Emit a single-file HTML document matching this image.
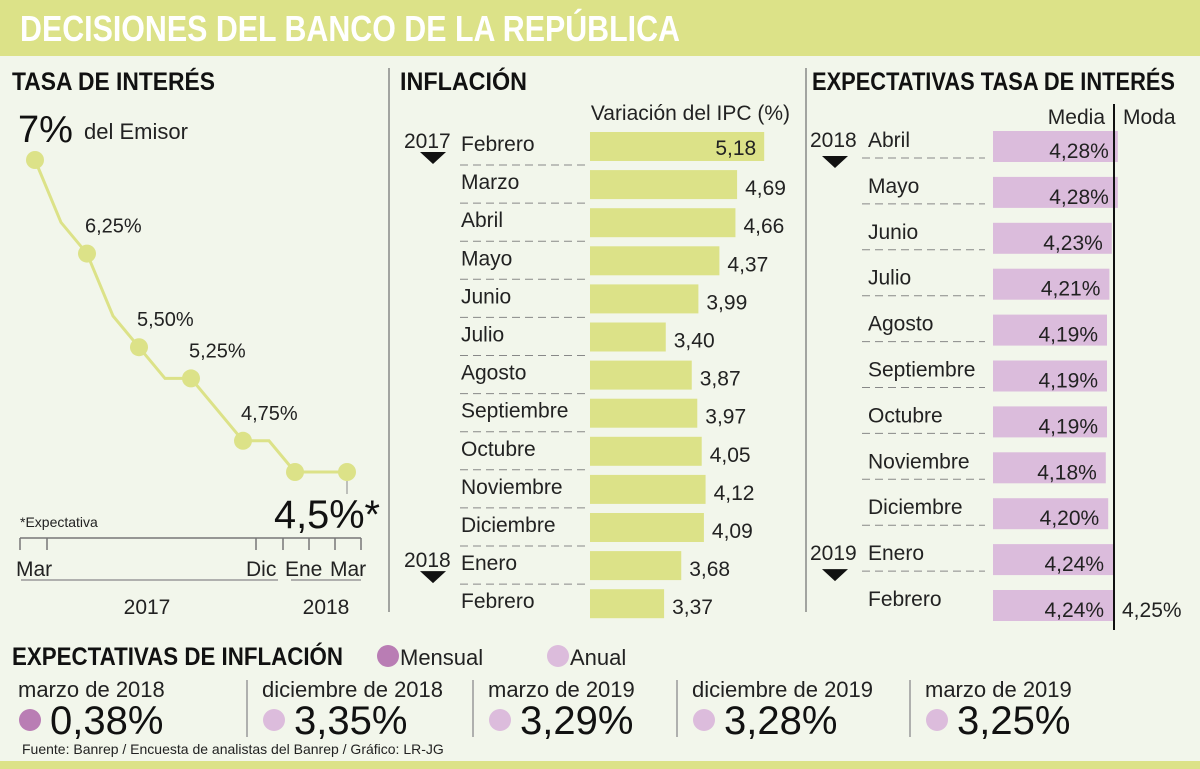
<!DOCTYPE html>
<html><head><meta charset="utf-8">
<style>
html,body{margin:0;padding:0;background:#f2f6eb;}
svg{display:block;font-family:"Liberation Sans Narrow","Liberation Sans",sans-serif;}
</style></head>
<body>
<svg id="c" width="1200" height="769" viewBox="0 0 1200 769" xmlns="http://www.w3.org/2000/svg">
<rect x="0" y="0" width="1200" height="769" fill="#f2f6eb"/>
<rect x="0" y="0" width="1200" height="56" fill="#dce288"/>
<text x="20" y="41" font-size="36" font-weight="bold" fill="#fff" textLength="660" lengthAdjust="spacingAndGlyphs">DECISIONES DEL BANCO DE LA REPÚBLICA</text>
<text x="12" y="90" font-size="25" font-weight="bold" fill="#111" textLength="203" lengthAdjust="spacingAndGlyphs">TASA DE INTERÉS</text>
<text x="400" y="90" font-size="25" font-weight="bold" fill="#111" textLength="127" lengthAdjust="spacingAndGlyphs">INFLACIÓN</text>
<text x="812" y="90" font-size="25" font-weight="bold" fill="#111" textLength="363" lengthAdjust="spacingAndGlyphs">EXPECTATIVAS TASA DE INTERÉS</text>
<line x1="389" y1="68" x2="389" y2="612" stroke="#888" stroke-width="1.5"/>
<line x1="806" y1="68" x2="806" y2="612" stroke="#888" stroke-width="1.5"/>
<g id="rate"></g>
<g id="infl"></g>
<g id="exp"></g>
<g id="bottom"></g>
<rect x="0" y="761" width="1200" height="8" fill="#dce288"/>
</svg>
<script>
const rateMonths=["Mar","Abr","May","Jun","Jul","Ago","Sep","Oct","Nov","Dic","Ene","Feb","Mar"];
const rateValues=[7,6.5,6.25,5.75,5.5,5.25,5.25,5,4.75,4.75,4.5,4.5,4.5];
const rateDots=[0,2,4,6,8,10,12];
const rateLabels=["7%","6,25%","5,50%","5,25%","4,75%","4,5%","4,5%*"];
const inflMonths=["Febrero","Marzo","Abril","Mayo","Junio","Julio","Agosto","Septiembre","Octubre","Noviembre","Diciembre","Enero","Febrero"];
const inflValues=[5.18,4.69,4.66,4.37,3.99,3.40,3.87,3.97,4.05,4.12,4.09,3.68,3.37];
const expMonths=["Abril","Mayo","Junio","Julio","Agosto","Septiembre","Octubre","Noviembre","Diciembre","Enero","Febrero"];
const expMedia=[4.28,4.28,4.23,4.21,4.19,4.19,4.19,4.18,4.20,4.24,4.24];
const expModa=4.25;
const botLabels=["marzo de 2018","diciembre de 2018","marzo de 2019","diciembre de 2019","marzo de 2019"];
const botValues=[0.38,3.35,3.29,3.28,3.25];
const botType=["Mensual","Anual","Anual","Anual","Anual"];

const NS="http://www.w3.org/2000/svg";
function mk(p,tag,a,txt){const e=document.createElementNS(NS,tag);for(const k in a)e.setAttribute(k,a[k]);if(txt!==undefined)e.textContent=txt;p.appendChild(e);return e;}
const fmt=(v,d)=>v.toFixed(d).replace('.',',');

// ---- interest rate line chart
const R=document.getElementById('rate');
const rx=i=>35+i*26, ry=v=>160+(7-v)*124.8;
let d=rateValues.map((v,i)=>(i?'L':'M')+rx(i)+','+ry(v)).join(' ');
let ln=mk(R,'path',{d:d,fill:'none',stroke:'#dce288','stroke-width':3});


rateDots.forEach((idx,k)=>{
  let c=mk(R,'circle',{cx:rx(idx),cy:ry(rateValues[idx]),r:9,fill:'#dce288'});
  
  
  if(k>0&&k<5){
    let t=mk(R,'text',{x:rx(idx)-2,y:ry(rateValues[idx])-21,'font-size':20,fill:'#222'},rateLabels[k]);
    
    
  }
});
let t7=mk(R,'text',{x:18,y:142,'font-size':38,fill:'#111'},rateLabels[0]);


let te=mk(R,'text',{x:84,y:139,'font-size':22,fill:'#222'},'del Emisor');


mk(R,'line',{x1:rx(12),y1:ry(4.5)+9,x2:rx(12),y2:ry(4.5)+22,stroke:'#888'});
let tl=mk(R,'text',{x:274,y:528,'font-size':40,fill:'#111',textLength:106,lengthAdjust:'spacingAndGlyphs'},rateLabels[6]);


let tx=mk(R,'text',{x:20,y:527,'font-size':14,fill:'#222'},'*Expectativa');


mk(R,'line',{x1:20,y1:538,x2:361,y2:538,stroke:'#777','stroke-width':1.5});
[20,47,256,283,309,335,361].forEach(x=>mk(R,'line',{x1:x,y1:538,x2:x,y2:550,stroke:'#777','stroke-width':1.5}));
[["Mar",16],["Dic",246],["Ene",285],["Mar",330]].forEach(([s,x])=>{let t=mk(R,'text',{x:x,y:576,'font-size':21,fill:'#222'},s);});
mk(R,'line',{x1:21,y1:580,x2:278,y2:580,stroke:'#999','stroke-width':1.5});
mk(R,'line',{x1:291,y1:580,x2:361,y2:580,stroke:'#999','stroke-width':1.5});
[["2017",147],["2018",326]].forEach(([s,x])=>{let t=mk(R,'text',{x:x,y:614,'font-size':21,fill:'#222','text-anchor':'middle'},s);});

// ---- inflation bars
const I=document.getElementById('infl');
const iy=i=>132+i*38.1, iw=v=>(v-2.03)*55.3;
let h=mk(I,'text',{x:790,y:120,'font-size':21,fill:'#222','text-anchor':'end'},'Variación del IPC (%)');


inflValues.forEach((v,i)=>{
  const y=iy(i);
  let b=mk(I,'rect',{x:590,y:y,width:iw(v),height:29,fill:'#dce288'});
  
  
  let l=mk(I,'text',{x:461,y:y+19,'font-size':21,fill:'#222'},inflMonths[i]);
  
  
  if(i<12) mk(I,'line',{x1:460,y1:y+33,x2:586,y2:y+33,stroke:'#888','stroke-dasharray':'8,5'});
  let vt = i==0 ? mk(I,'text',{x:590+iw(v)-8,y:y+23,'font-size':21,fill:'#222','text-anchor':'end'},fmt(v,2))
               : mk(I,'text',{x:590+iw(v)+8,y:y+25,'font-size':21,fill:'#222'},fmt(v,2));
  
  
});
[["2017",0],["2018",11]].forEach(([s,i])=>{
  let t=mk(I,'text',{x:404,y:iy(i)+16,'font-size':21,fill:'#222'},s);
  
  
  mk(I,'path',{d:`M420,${iy(i)+20} L446,${iy(i)+20} L433,${iy(i)+32} Z`,fill:'#111'});
});

// ---- rate expectations
const E=document.getElementById('exp');
const ey=i=>131+i*45.9, ew=v=>(v-3.24)*120;
let hm=mk(E,'text',{x:1105,y:124,'font-size':21,fill:'#222','text-anchor':'end'},'Media');


let hmo=mk(E,'text',{x:1123,y:124,'font-size':21,fill:'#222'},'Moda');


expMedia.forEach((v,i)=>{
  const y=ey(i);
  let b=mk(E,'rect',{x:993,y:y,width:ew(v),height:31,fill:'#dbbcdc'});
  
  
  let l=mk(E,'text',{x:868,y:y+16,'font-size':21,fill:'#222'},expMonths[i]);
  
  
  if(i<10) mk(E,'line',{x1:862,y1:y+27,x2:985,y2:y+27,stroke:'#888','stroke-dasharray':'8,5'});
  let vt=mk(E,'text',{x:993+ew(v)-9,y:y+27,'font-size':21,fill:'#222','text-anchor':'end'},fmt(v,2)+'%');
  
  
});
mk(E,'line',{x1:1114,y1:104,x2:1114,y2:630,stroke:'#111','stroke-width':2});
let mv=mk(E,'text',{x:1122,y:ey(10)+27,'font-size':21,fill:'#222'},fmt(expModa,2)+'%');


[["2018",0],["2019",9]].forEach(([s,i])=>{
  let t=mk(E,'text',{x:810,y:ey(i)+16,'font-size':21,fill:'#222'},s);
  
  
  mk(E,'path',{d:`M822,${ey(i)+25} L848,${ey(i)+25} L835,${ey(i)+37} Z`,fill:'#111'});
});

// ---- bottom
const B=document.getElementById('bottom');
const col={Mensual:'#b97db4',Anual:'#dcbcdc'};
let bt=mk(B,'text',{x:12,y:665,'font-size':25,'font-weight':'bold',fill:'#111',textLength:331,lengthAdjust:'spacingAndGlyphs'},'EXPECTATIVAS DE INFLACIÓN');


[["Mensual",388],["Anual",558]].forEach(([s,x])=>{
  mk(B,'circle',{cx:x,cy:656,r:11,fill:col[s]});
  let t=mk(B,'text',{x:x+12,y:665,'font-size':22,fill:'#222'},s);
  
  
});
const bx=[18,262,488,692,925];
botValues.forEach((v,i)=>{
  const x=bx[i];
  let l=mk(B,'text',{x:x,y:697,'font-size':22,fill:'#222'},botLabels[i]);
  
  
  mk(B,'circle',{cx:x+12,cy:720,r:11,fill:col[botType[i]]});
  let t=mk(B,'text',{x:x+32,y:734,'font-size':40,fill:'#111'},fmt(v,2)+'%');
  
  
  if(i>0) mk(B,'line',{x1:x-15,y1:680,x2:x-15,y2:737,stroke:'#999','stroke-width':1.5});
});
let src=mk(B,'text',{x:22,y:754,'font-size':14,fill:'#222'},'Fuente: Banrep / Encuesta de analistas del Banrep / Gráfico: LR-JG');


</script>
</body></html>
